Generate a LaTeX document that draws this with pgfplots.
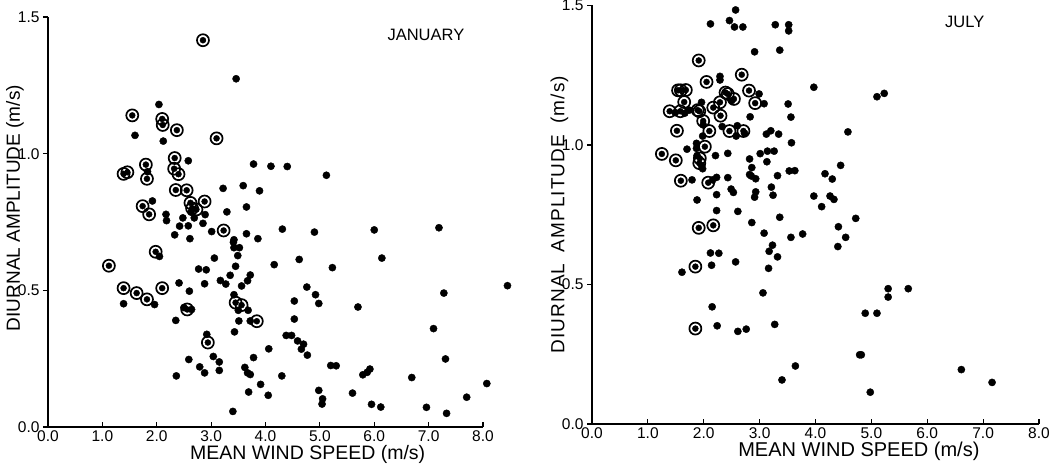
\documentclass[border=0pt]{standalone}
\usepackage{fontspec}
\setmainfont{Liberation Sans}
\usepackage{pgfplots}
\pgfplotsset{compat=1.18}

\newcommand{\tickfont}{\fontsize{15.5}{17}\selectfont}
\pgfplotsset{
  windpanel/.style={
    scale only axis,
    xmin=0, xmax=8, ymin=0, ymax=1.5,
    axis x line=bottom, axis y line=left,
    axis line style={-, line width=1.4pt},
    xtick={0,1,...,8}, ytick={0,0.5,1.0,1.5},
    xtick align=inside, ytick align=outside,
    major tick length=5pt,
    tick style={line width=1.2pt, black},
    xticklabel={\tickfont\pgfmathprintnumber[fixed,fixed zerofill,precision=1,assume math mode=true]{\tick}},
    yticklabel={\tickfont\pgfmathprintnumber[fixed,fixed zerofill,precision=1,assume math mode=true]{\tick}},
    xlabel={MEAN WIND SPEED (m/s)},
    xlabel style={font=\fontsize{19.5}{22}\selectfont,
      at={(axis description cs:0.597,0)}, anchor=center, yshift=-27pt},
    clip=false,
  },
  dot/.style={only marks, mark=*, mark size=3.6pt, black},
  ring/.style={only marks, mark=o, mark size=6pt, black, mark options={line width=1.7pt}},
  inner/.style={only marks, mark=*, mark size=3pt, black},
}

\begin{document}
\begin{tikzpicture}
\useasboundingbox (-48pt,-47pt) rectangle (1014pt,427pt);

% ---------------- January
\begin{axis}[windpanel, at={(0pt,0pt)}, anchor=origin, width=435pt, height=410pt,
  ylabel={DIURNAL AMPLITUDE (m/s)},
  ylabel style={font=\fontsize{19}{21}\selectfont,
    at={(axis description cs:0,0.534)}, anchor=center, yshift=33pt}]
\addplot[dot] table {
x y
3.46 1.274
2.04 1.18
1.60 1.067
2.12 1.046
2.58 0.974
3.78 0.962
4.10 0.954
4.40 0.953
1.83 0.934
3.22 0.873
3.59 0.883
3.89 0.864
1.92 0.827
2.63 0.786
2.89 0.777
3.29 0.787
3.65 0.805
2.17 0.778
2.18 0.755
2.48 0.765
2.69 0.765
2.42 0.735
2.58 0.736
2.85 0.745
3.01 0.715
3.65 0.707
4.31 0.724
2.33 0.703
2.61 0.689
3.42 0.685
3.86 0.689
5.12 0.921
4.90 0.713
6.00 0.721
7.19 0.729
3.41 0.676
3.52 0.656
3.42 0.656
2.05 0.624
3.49 0.627
3.06 0.618
4.16 0.594
4.62 0.613
2.77 0.578
2.91 0.575
3.45 0.588
3.35 0.555
3.72 0.556
3.17 0.536
3.27 0.523
3.67 0.535
3.56 0.516
2.41 0.527
2.88 0.524
2.60 0.497
4.76 0.512
1.39 0.451
1.96 0.448
3.42 0.484
3.50 0.427
3.68 0.427
2.50 0.437
2.64 0.430
2.35 0.390
3.51 0.388
3.72 0.388
4.53 0.461
4.53 0.395
3.43 0.348
2.92 0.339
4.38 0.335
4.48 0.335
4.59 0.315
4.70 0.303
4.66 0.285
4.77 0.263
4.06 0.286
3.04 0.258
2.59 0.247
3.78 0.254
3.15 0.238
2.79 0.220
3.15 0.207
2.88 0.198
2.36 0.187
3.62 0.218
3.67 0.198
3.72 0.192
3.91 0.156
4.30 0.187
3.69 0.128
4.05 0.116
3.40 0.057
5.23 0.583
6.14 0.618
4.92 0.484
4.98 0.452
5.70 0.439
7.28 0.490
8.45 0.517
7.09 0.360
5.20 0.225
5.30 0.224
5.79 0.191
5.87 0.200
5.92 0.212
7.31 0.249
6.69 0.181
8.07 0.159
4.98 0.134
5.05 0.103
5.04 0.084
5.60 0.124
5.95 0.083
6.12 0.073
6.96 0.072
7.70 0.109
7.33 0.050
};
\pgfplotstableread{
x y
2.85 1.415
1.55 1.140
2.10 1.127
2.11 1.105
2.37 1.086
3.10 1.056
2.33 0.984
1.80 0.960
1.46 0.932
1.39 0.926
1.82 0.908
2.32 0.945
2.40 0.925
2.35 0.867
2.55 0.866
1.74 0.808
1.86 0.778
2.62 0.820
2.88 0.825
2.65 0.800
2.73 0.796
3.23 0.719
1.98 0.641
1.12 0.590
1.39 0.508
1.63 0.490
1.82 0.467
2.10 0.508
3.45 0.455
3.56 0.446
2.56 0.430
3.84 0.387
2.94 0.309
}\jancircled
\addplot[ring] table {\jancircled};
\addplot[inner] table {\jancircled};
\node[font=\fontsize{16.5}{18}\selectfont] at (axis cs:6.95,1.433) {JANUARY};
\end{axis}

% ---------------- July
\begin{axis}[windpanel, at={(544pt,3pt)}, anchor=origin, width=447pt, height=418.5pt,
  xlabel style={font=\fontsize{20}{22}\selectfont},
  ylabel={DIURNAL\hspace{11pt}AMPLITUDE\hspace{11pt}(m/s)},
  ylabel style={font=\fontsize{19}{21}\selectfont\addfontfeature{LetterSpace=6},
    at={(axis description cs:0,0.5)}, anchor=center, yshift=32.5pt}]
\addplot[dot] table {
x y
2.57 1.484
2.12 1.434
2.46 1.446
2.55 1.423
2.70 1.423
3.28 1.431
3.52 1.431
3.52 1.409
2.91 1.334
3.36 1.340
3.97 1.207
2.29 1.246
2.29 1.233
2.50 1.159
2.99 1.183
1.96 1.153
3.08 1.148
3.51 1.147
1.49 1.116
1.66 1.114
1.74 1.125
2.83 1.101
3.56 1.100
1.99 1.072
2.33 1.066
2.60 1.069
2.73 1.042
2.58 1.032
3.12 1.039
3.20 1.051
3.34 1.039
1.98 1.032
3.57 1.008
1.87 1.006
1.87 0.988
1.70 0.985
1.88 0.962
1.96 0.926
1.98 0.915
2.21 0.962
2.43 0.970
2.82 0.950
3.01 0.969
3.14 0.978
3.26 0.978
3.13 0.940
2.86 0.919
3.53 0.907
3.63 0.908
3.32 0.890
2.82 0.894
2.85 0.889
2.93 0.879
1.79 0.875
2.16 0.875
2.23 0.884
2.43 0.883
2.49 0.842
2.53 0.830
2.93 0.832
2.91 0.813
3.21 0.849
3.24 0.820
2.23 0.822
1.88 0.803
3.97 0.817
2.23 0.765
2.61 0.762
2.86 0.722
3.36 0.741
3.08 0.684
3.56 0.669
3.77 0.681
5.10 1.173
5.23 1.185
4.58 1.047
4.45 0.927
4.17 0.897
4.30 0.878
4.26 0.817
4.33 0.805
4.11 0.779
4.72 0.737
4.41 0.707
4.54 0.669
4.40 0.636
2.12 0.613
2.27 0.612
3.23 0.641
3.17 0.619
3.32 0.599
2.14 0.569
2.57 0.581
3.16 0.558
1.61 0.544
3.06 0.470
2.15 0.420
2.24 0.352
2.61 0.332
2.76 0.340
3.27 0.357
3.64 0.208
3.40 0.158
5.30 0.485
5.30 0.455
5.66 0.485
4.89 0.397
5.10 0.397
4.79 0.248
4.82 0.248
6.61 0.195
7.16 0.149
4.98 0.114
};
\pgfplotstableread{
x y
1.91 1.303
2.68 1.252
2.05 1.226
1.54 1.196
1.59 1.196
1.68 1.197
2.39 1.188
2.43 1.183
2.54 1.165
2.81 1.195
1.65 1.154
2.29 1.153
2.92 1.150
1.39 1.121
1.58 1.121
1.89 1.125
1.92 1.121
2.17 1.134
2.30 1.105
1.99 1.086
2.10 1.050
2.46 1.050
2.71 1.050
1.52 1.051
2.02 0.994
1.25 0.968
1.50 0.945
1.93 0.952
1.92 0.935
1.59 0.872
2.08 0.865
1.91 0.703
2.17 0.712
1.85 0.564
1.85 0.342
}\julcircled
\addplot[ring] table {\julcircled};
\addplot[inner] table {\julcircled};
\node[font=\fontsize{16.5}{18}\selectfont] at (axis cs:6.67,1.442) {JULY};
\end{axis}
\end{tikzpicture}
\end{document}
